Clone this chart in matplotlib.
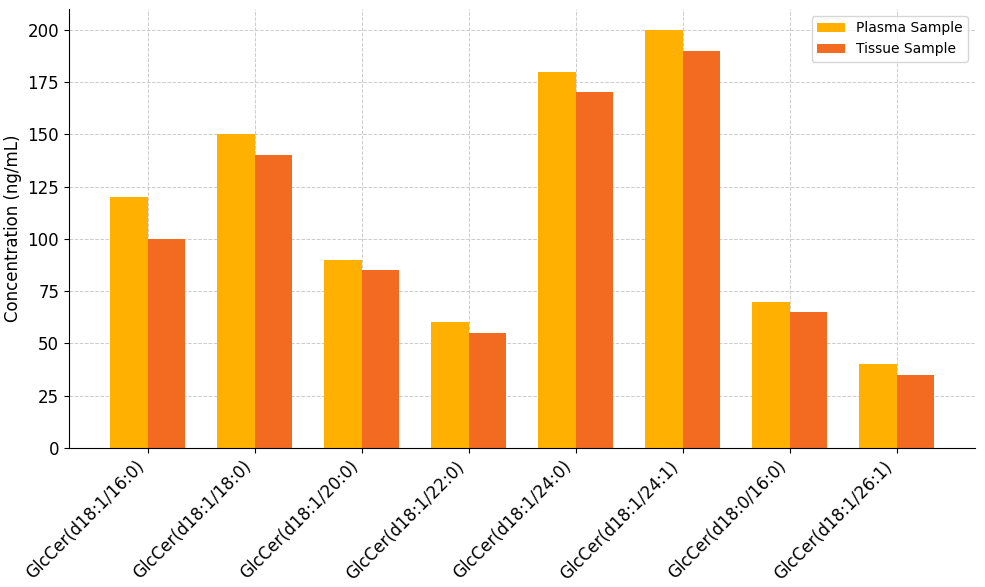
import matplotlib
matplotlib.use("Agg")
import matplotlib.pyplot as plt
import numpy as np

categories = ["GlcCer(d18:1/16:0)", "GlcCer(d18:1/18:0)", "GlcCer(d18:1/20:0)", "GlcCer(d18:1/22:0)",
              "GlcCer(d18:1/24:0)", "GlcCer(d18:1/24:1)", "GlcCer(d18:0/16:0)", "GlcCer(d18:1/26:1)"]
plasma = [120, 150, 90, 60, 180, 200, 70, 40]
tissue = [100, 140, 85, 55, 170, 190, 65, 35]

fig, ax = plt.subplots(figsize=(9.85, 5.87), dpi=100)
x = np.arange(len(categories))
w = 0.35
ax.bar(x - w/2, plasma, w, color="#FFB000", label="Plasma Sample")
ax.bar(x + w/2, tissue, w, color="#F36B21", label="Tissue Sample")
ax.set_xticks(x)
ax.set_xticklabels(categories, rotation=45, ha="right", fontsize=12)
ax.set_ylabel("Concentration (ng/mL)", fontsize=12)
ax.set_yticks(range(0, 201, 25))
ax.tick_params(axis="y", labelsize=12)
ax.set_ylim(0, 210)
ax.grid(True, linestyle="--", color="#cccccc", linewidth=0.7)
ax.set_axisbelow(True)
ax.spines["top"].set_visible(False)
ax.spines["right"].set_visible(False)
ax.legend(loc="upper right")
fig.subplots_adjust(left=0.07, right=0.99, top=0.985, bottom=0.237)
fig.savefig("out.png")
